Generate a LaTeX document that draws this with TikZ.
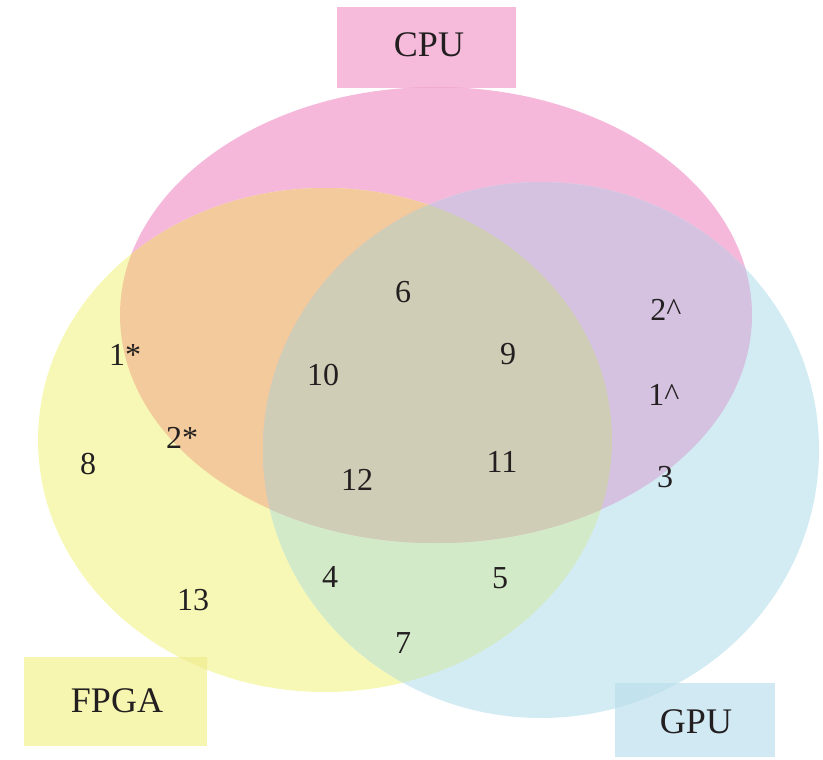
\documentclass[tikz,border=0pt]{standalone}
\usepackage{fontspec}
\setmainfont{Liberation Serif}
\definecolor{pinkc}{HTML}{F5B8DA}
\definecolor{yellowc}{HTML}{F7F8B5}
\definecolor{bluec}{HTML}{D3ECF4}
\definecolor{orangec}{HTML}{F3CA9B}
\definecolor{purplec}{HTML}{D4C2E0}
\definecolor{greenc}{HTML}{D3EAC8}
\definecolor{grayc}{HTML}{CFCDB6}
\definecolor{pinkbox}{HTML}{F6BADB}
\definecolor{yellowbox}{HTML}{F6F6B0}
\definecolor{bluebox}{HTML}{D1E9F2}
\definecolor{pinkdark}{HTML}{F1AACF}
\definecolor{yellowdark}{HTML}{F1EF9A}
\definecolor{bluedark}{HTML}{C2E2EE}
\definecolor{txt}{HTML}{231F20}
\def\cpuE{(436,315) ellipse [x radius=316pt, y radius=228pt]}
\def\fpgaE{(325,440) ellipse [x radius=287pt, y radius=252pt]}
\def\gpuE{(541,450) ellipse [x radius=278pt, y radius=268pt]}
\tikzset{
  num/.style={text=txt, font=\fontsize{32}{36}\selectfont, inner sep=0pt},
  lab/.style={text=txt, font=\fontsize{36}{40}\selectfont, inner sep=0pt},
}
\begin{document}
\begin{tikzpicture}[x=1pt,y=-1pt]
\useasboundingbox (0,0) rectangle (823,760);
% label boxes
\fill[pinkbox] (337,7) rectangle (516,88);
\fill[yellowbox] (24,657) rectangle (207,746);
\fill[bluebox] (615,683) rectangle (775,757);
% base shapes
\fill[pinkc] \cpuE;
\fill[yellowc] \fpgaE;
\fill[bluec] \gpuE;
% box/shape overlaps
\begin{scope}\clip (337,7) rectangle (516,88); \fill[pinkdark] \cpuE; \end{scope}
\begin{scope}\clip (24,657) rectangle (207,746); \fill[yellowdark] \fpgaE; \end{scope}
\begin{scope}\clip (615,683) rectangle (775,757); \fill[bluedark] \gpuE; \end{scope}
% pairwise and triple intersections
\begin{scope}\clip \fpgaE; \fill[greenc] \gpuE; \end{scope}
\begin{scope}
  \clip \cpuE;
  \fill[orangec] \fpgaE;
  \fill[purplec] \gpuE;
  \clip \fpgaE;
  \fill[grayc] \gpuE;
\end{scope}
% labels
\node[lab] (cpu) at (429,45) {CPU};
\node[lab] (fpga) at (117,701) {FPGA};
\node[lab] (gpu) at (696,722) {GPU};
% numbers
\node[num] (n6) at (403,292) {6};
\node[num] (n10) at (323,375) {10};
\node[num] (n9) at (508,354) {9};
\node[num] (n12) at (357,480) {12};
\node[num] (n11) at (502,462) {11};
\node[num] (n4) at (330,577) {4};
\node[num] (n5) at (500,578) {5};
\node[num] (n7) at (403,643) {7};
\node[num] (n1s) at (125,355) {1*};
\node[num] (n2s) at (182,438) {2*};
\node[num] (n8) at (88,464) {8};
\node[num] (n13) at (193,600) {13};
\node[num] (n2c) at (666,310) {2\textasciicircum};
\node[num] (n1c) at (664,395) {1\textasciicircum};
\node[num] (n3) at (665,477) {3};
\end{tikzpicture}
\end{document}
